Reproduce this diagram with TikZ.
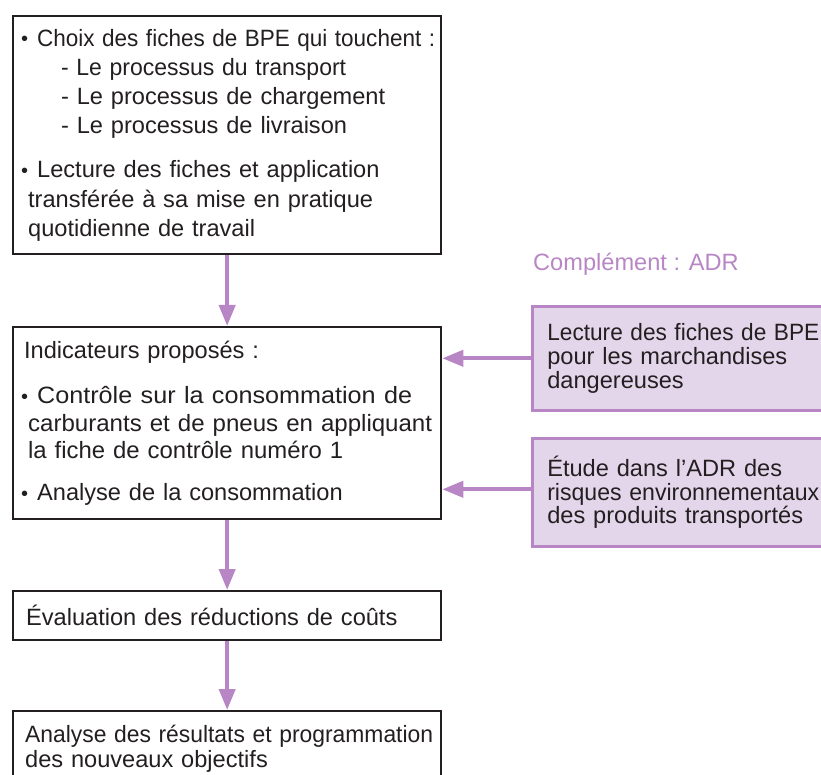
\documentclass[tikz,border=0pt]{standalone}
\usepackage{fontspec}
\usepackage{graphicx}
\setmainfont{Liberation Sans}
\usetikzlibrary{arrows.meta}
\definecolor{ink}{HTML}{231F20}
\definecolor{mauve}{HTML}{B886C4}
\definecolor{lilac}{HTML}{E3D6EB}
% small bullet followed by a fixed gap
\newcommand\bul{\makebox[15pt][l]{\hspace*{-1pt}\raisebox{0.02em}{\scalebox{0.85}{\textbullet}}}}
% stretch or squeeze a line horizontally to a given width
\newlength\fitw
\newcommand\fitto[2]{\settowidth{\fitw}{#2}\pgfmathsetmacro\fitr{#1/\fitw}\scalebox{\fitr}[1]{#2}}
\begin{document}
\begin{tikzpicture}[x=1pt,y=-1pt,
  mainbox/.style={draw=ink, line width=2.3pt, text=ink, anchor=north west,
    text width=410pt, inner xsep=9pt, inner ysep=0pt, align=left},
  sidebox/.style={draw=mauve, fill=lilac, line width=2.6pt, text=ink, anchor=north west,
    text width=300pt, inner xsep=15pt, inner ysep=0pt, align=left,
    font=\fontsize{23.6}{23.8}\selectfont},
  flow/.style={draw=mauve, line width=4pt, -{Triangle[length=21pt,width=16pt]}},
  font=\fontsize{23.6}{29}\selectfont]
\clip (0,0) rectangle (821,775);

% main chain of steps
\node[mainbox, minimum height=238pt, font=\fontsize{23.6}{29.2}\selectfont] (choix) at (12,15) {%
\mbox{\bul\fitto{398pt}{Choix des fiches de BPE qui touchent :}}\\
\mbox{\hspace*{39pt}\fitto{285pt}{- Le processus du transport}}\\
\mbox{\hspace*{39pt}- Le processus de chargement}\\
\mbox{\hspace*{39pt}- Le processus de livraison}\\[15pt]
\mbox{\bul Lecture des fiches et application}\\
\mbox{\hspace*{6pt}transférée à sa mise en pratique}\\
\mbox{\hspace*{6pt}quotidienne de travail}};

\node[mainbox, minimum height=192pt, font=\fontsize{23.6}{27.6}\selectfont] (ind) at (12,326) {%
\mbox{\hspace*{2pt}Indicateurs proposés :}\\[18pt]
\mbox{\bul\fitto{375pt}{Contrôle sur la consommation de}}\\
\mbox{\hspace*{6pt}\fitto{404pt}{carburants et de pneus en appliquant}}\\
\mbox{\hspace*{6pt}\fitto{315pt}{la fiche de contrôle numéro 1}}\\[14pt]
\mbox{\bul Analyse de la consommation}};

\node[mainbox, minimum height=49pt] (eval) at (12,590) {%
\mbox{\hspace*{4pt}Évaluation des réductions de coûts}};

\node[mainbox, minimum height=75pt, font=\fontsize{23.6}{25}\selectfont] (analyse) at (12,710) {%
\mbox{\hspace*{3pt}\fitto{408pt}{Analyse des résultats et programmation}}\\
\mbox{\hspace*{3pt}des nouveaux objectifs}};

% ADR complement
\node[text=mauve, anchor=west, inner sep=0pt] (compl) at (533,264) {Complément : ADR};

\node[sidebox, minimum height=104pt] (bpe) at (531,305) {%
\fitto{272pt}{Lecture des fiches de BPE}\\pour les marchandises\\dangereuses};

\node[sidebox, minimum height=108pt] (adr) at (531,437) {%
Étude dans l’ADR des\\\fitto{272pt}{risques environnementaux}\\des produits transportés};

% connectors
\draw[flow] (choix.south) -- (ind.north);
\draw[flow] (ind.south) -- (eval.north);
\draw[flow] (eval.south) -- (analyse.north);
\draw[flow] (bpe.west) -- (bpe.west -| ind.east);
\draw[flow] ([yshift=3pt]adr.west) -- ([yshift=3pt]adr.west -| ind.east);
\end{tikzpicture}
\end{document}
